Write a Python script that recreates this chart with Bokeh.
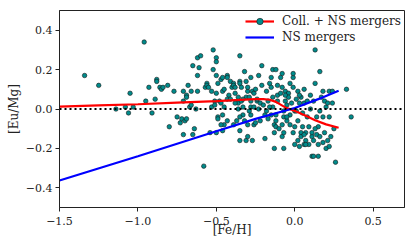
from bokeh.plotting import figure
from bokeh.models import Span, Legend, LegendItem, FixedTicker, CustomJSTickFormatter, Range1d
from bokeh.embed import file_html
from bokeh.resources import INLINE

# Observational data: [Fe/H] and [Eu/Mg]
fe_h = [-1.34, -1.25, -1.14, -1.08, -1.06, -1.05, -1.03, -0.96, -0.95, -0.93, -0.91, -0.89, -0.88, -0.88,
        -0.86, -0.85, -0.84, -0.81, -0.80, -0.77, -0.75, -0.73, -0.72, -0.71, -0.71, -0.71, -0.70, -0.69,
        -0.69, -0.69, -0.68, -0.67, -0.66, -0.66, -0.65, -0.65, -0.64, -0.63, -0.62, -0.62, -0.62, -0.61,
        -0.60, -0.58, -0.57, -0.56, -0.56, -0.55, -0.54, -0.53, -0.53, -0.52, -0.52, -0.51, -0.50, -0.50,
        -0.50, -0.50, -0.49, -0.49,
        -0.47, -0.46, -0.46, -0.45, -0.43, -0.43, -0.42, -0.48, -0.47, -0.45, -0.46, -0.45, -0.47, -0.43,
        -0.41, -0.41, -0.40, -0.50, -0.49, -0.51, -0.43, -0.46,
        -0.39, -0.39, -0.38, -0.38, -0.36, -0.36, -0.35, -0.35, -0.34, -0.34, -0.33, -0.33, -0.32, -0.31,
        -0.30, -0.38, -0.36, -0.35, -0.31, -0.35, -0.39, -0.35, -0.32, -0.35, -0.31, -0.37, -0.33,
        -0.30, -0.29, -0.28, -0.28, -0.27, -0.26, -0.25, -0.24, -0.23, -0.23, -0.30, -0.28, -0.26, -0.25,
        -0.22, -0.21, -0.28, -0.26, -0.22, -0.29, -0.27, -0.30, -0.21, -0.24, -0.20,
        -0.19, -0.18, -0.17, -0.16, -0.15, -0.15, -0.14, -0.13, -0.12, -0.13, -0.12, -0.11, -0.11, -0.17,
        -0.19, -0.15, -0.14, -0.12, -0.10, -0.16, -0.14, -0.12, -0.13, -0.18, -0.11,
        -0.09, -0.09, -0.08, -0.07, -0.07, -0.06, -0.06, -0.05, -0.05, -0.04, -0.04, -0.03, -0.03, -0.02,
        -0.01, -0.01, -0.08, -0.07, -0.05, -0.03, -0.01, -0.08, 0.00, -0.08, -0.01, -0.07, 0.00, -0.06,
        0.01, 0.01, 0.02, 0.02, 0.03, 0.04, 0.04, 0.05, 0.05, 0.06, 0.06, 0.07, 0.07, 0.08, 0.08, 0.09,
        0.09, 0.10, 0.02, 0.03, 0.04, 0.06, 0.00, 0.06, 0.07, 0.03,
        0.10, 0.11, 0.11, 0.12, 0.12, 0.13, 0.14, 0.14, 0.15, 0.15, 0.16, 0.16, 0.17, 0.18, 0.18, 0.19,
        0.19, 0.13, 0.16, 0.18, 0.15, 0.11, 0.12, 0.13,
        0.20, 0.21, 0.21, 0.23, 0.24, 0.25, 0.22, 0.22, 0.20, 0.22, 0.26, 0.33, 0.36, 0.24]
eu_mg = [0.17, 0.12, 0.00, 0.01, -0.02, 0.08, 0.01, 0.34, 0.04, 0.11, -0.02, 0.05, 0.15, 0.14,
         0.11, 0.10, 0.11, 0.12, -0.09, 0.09, -0.04, -0.07, -0.05, 0.04, 0.09, -0.13, -0.06, -0.05,
         0.07, 0.06, 0.12, 0.01, 0.09, 0.02, 0.22, -0.13, -0.10, 0.00, 0.26, 0.17, 0.09, 0.21,
         0.27, -0.29, 0.11, 0.13, 0.12, 0.11, -0.12, 0.09, 0.01, 0.30, 0.20, 0.04, 0.26, 0.24,
         0.17, 0.08, 0.13, -0.04,
         0.15, 0.09, 0.16, 0.10, 0.17, 0.16, 0.07, 0.04, 0.03, 0.01, -0.03, -0.08, -0.08, 0.05,
         0.05, 0.14, 0.11, -0.12, -0.05, 0.02, -0.06, -0.11,
         0.13, 0.12, 0.11, 0.08, 0.06, 0.03, 0.14, 0.13, 0.11, 0.04, 0.01, -0.03, -0.06, 0.06,
         0.09, 0.03, 0.00, -0.04, 0.14, -0.11, -0.08, 0.27, 0.19, -0.16, -0.16, -0.06, 0.05,
         0.11, 0.06, 0.01, 0.16, 0.09, 0.08, 0.10, 0.04, 0.00, 0.17, -0.08, -0.03, -0.08, -0.07,
         -0.06, 0.12, 0.04, 0.01, 0.03, -0.01, -0.16, -0.14, 0.22, 0.05, 0.02,
         -0.03, -0.01, 0.04, 0.13, 0.11, 0.16, 0.01, -0.08, -0.09, -0.12, -0.06, 0.12, 0.04, -0.05,
         -0.15, -0.03, 0.06, -0.03, -0.10, 0.01, 0.20, 0.20, -0.20, 0.09, 0.07,
         0.16, 0.08, 0.11, -0.01, -0.04, 0.09, 0.04, -0.06, 0.02, 0.08, 0.06, 0.13, -0.03, 0.03,
         0.11, 0.16, -0.14, -0.12, -0.04, -0.08, -0.12, -0.08, -0.01, 0.18, 0.18, -0.20, -0.18, 0.07,
         0.05, -0.01, -0.06, 0.09, 0.03, -0.12, 0.06, -0.02, -0.09, 0.10, 0.03, -0.12, -0.16, 0.04, -0.04, -0.09,
         -0.18, 0.00, -0.16, -0.19, -0.14, -0.13, -0.09, -0.18, -0.18, 0.07,
         0.07, -0.14, -0.12, -0.16, 0.04, 0.13, -0.04, -0.13, -0.18, -0.09, -0.01, -0.14, 0.06, -0.17, -0.04, -0.12,
         0.04, 0.30, 0.19, 0.09, -0.24, -0.24, -0.24, -0.10,
         0.01, -0.16, 0.03, -0.14, 0.03, -0.10, -0.04, 0.09, -0.20, -0.19, -0.27, 0.10, -0.04, 0.09]

# Model tracks
red_x = [-1.5, -1.25, -1.0, -0.75, -0.5, -0.35, -0.25, -0.2, -0.16, -0.12, -0.09, -0.06, -0.02, 0.01,
         0.07, 0.13, 0.2, 0.28]
red_y = [0.012, 0.018, 0.024, 0.032, 0.040, 0.046, 0.050, 0.050, 0.047, 0.036, 0.022, 0.008, -0.004,
         -0.013, -0.034, -0.057, -0.078, -0.095]
blue_x = [-1.5, -1.0, -0.5, -0.25, 0.0, 0.15, 0.28]
blue_y = [-0.363, -0.240, -0.113, -0.050, 0.005, 0.050, 0.093]

x_ticks = [-1.5, -1.0, -0.5, 0.0, 0.5]
y_ticks = [-0.4, -0.2, 0.0, 0.2, 0.4]

FONT = "DejaVu Serif"

p = figure(width=407, height=244, output_backend="svg", toolbar_location=None,
           x_range=Range1d(-1.5, 0.7), y_range=Range1d(-0.5, 0.5),
           min_border_left=59, min_border_right=3, min_border_top=10, min_border_bottom=37)
p.grid.visible = False
p.outline_line_color = "#222222"
p.outline_line_width = 1
p.background_fill_color = "white"
p.border_fill_color = "white"

zero = Span(location=0, dimension="width", line_color="black", line_width=2, line_dash="2 3")
p.add_layout(zero)

sc = p.scatter(fe_h, eu_mg, size=4.5, fill_color="#008b8b", line_color="#1a1a1a", line_width=0.6)
r_red = p.line(red_x, red_y, line_color="#ff0000", line_width=2.2)
r_blue = p.line(blue_x, blue_y, line_color="#0000ff", line_width=2.2)

fmt = CustomJSTickFormatter(code="return tick.toFixed(1).replace('-', '\u2212');")
for ax, ticks, label in ((p.xaxis[0], x_ticks, "[Fe/H]"), (p.yaxis[0], y_ticks, "[Eu/Mg]")):
    ax.ticker = FixedTicker(ticks=ticks)
    ax.formatter = fmt
    ax.axis_label = label
    ax.axis_label_text_font = FONT
    ax.axis_label_text_font_style = "normal"
    ax.axis_label_text_font_size = "12px"
    ax.axis_label_text_color = "#222222"
    ax.major_label_text_font = FONT
    ax.major_label_text_font_size = "11px"
    ax.major_label_text_color = "#222222"
    ax.major_tick_in = 0
    ax.major_tick_out = 4
    ax.minor_tick_out = 0
    ax.minor_tick_in = 0
    ax.axis_line_color = "#222222"
    ax.major_tick_line_color = "#222222"

p.xaxis[0].major_label_standoff = 5
p.xaxis[0].axis_label_standoff = -5
p.yaxis[0].major_label_standoff = 3
p.yaxis[0].axis_label_standoff = 2

legend = Legend(items=[LegendItem(label="Coll. + NS mergers", renderers=[r_red, sc]),
                       LegendItem(label="NS mergers", renderers=[r_blue])],
                location="top_right", margin=3, padding=0, spacing=0,
                glyph_width=29, glyph_height=16, label_height=16, label_standoff=8,
                label_text_font=FONT, label_text_font_size="12px", label_text_color="#222222",
                border_line_alpha=0, background_fill_alpha=0)
p.add_layout(legend)

open("out.html", "w").write(file_html(p, INLINE))
